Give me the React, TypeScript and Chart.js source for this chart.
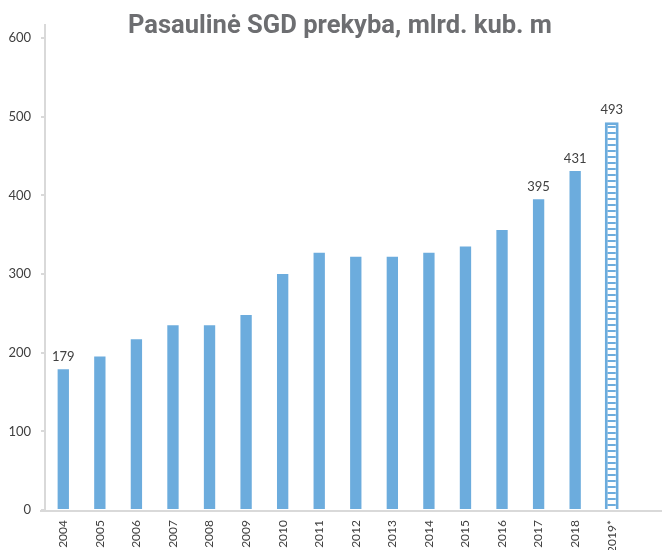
import React, { useEffect, useRef } from 'react';
import { Chart, registerables } from 'chart.js';

Chart.register(...registerables);

const titleText = 'Pasaulinė SGD prekyba, mlrd. kub. m';
const years = ['2004', '2005', '2006', '2007', '2008', '2009', '2010', '2011', '2012', '2013', '2014', '2015', '2016', '2017', '2018', '2019*'];
const values = [179, 195, 217, 235, 235, 248, 300, 327, 322, 322, 327, 335, 356, 395, 431, 493];
const labeledYears = ['2004', '2017', '2018', '2019*'];
const forecastYears = ['2019*'];
const yMin = 0;
const yMax = 600;
const yStep = 100;

const BLUE = '#6CACDD';
const AXIS = '#D9D9D9';
const TEXT = '#404040';

function makePattern(): CanvasPattern | string {
  const c = document.createElement('canvas');
  c.width = 4;
  c.height = 6;
  const g = c.getContext('2d');
  if (!g) return '#ffffff';
  g.fillStyle = '#ffffff';
  g.fillRect(0, 0, 4, 6);
  g.fillStyle = BLUE;
  g.fillRect(0, 0, 4, 2);
  return g.createPattern(c, 'repeat') || '#ffffff';
}

const customPlugin = {
  id: 'customDraw',
  beforeDatasetsDraw(chart: any) {
    const { ctx, chartArea } = chart;
    ctx.save();
    ctx.strokeStyle = AXIS;
    ctx.lineWidth = 2;
    ctx.beginPath();
    ctx.moveTo(chartArea.left, 24);
    ctx.lineTo(chartArea.left, chartArea.bottom + 1);
    ctx.stroke();
    ctx.beginPath();
    ctx.moveTo(chartArea.left - 5, chartArea.bottom + 1);
    ctx.lineTo(chart.width, chartArea.bottom + 1);
    ctx.stroke();
    ctx.restore();
  },
  afterDatasetsDraw(chart: any) {
    const { ctx } = chart;
    ctx.save();
    ctx.fillStyle = TEXT;
    ctx.font = '13px Lato';
    ctx.textAlign = 'center';
    ctx.textBaseline = 'alphabetic';
    chart.data.datasets.forEach((ds: any, di: number) => {
      const meta = chart.getDatasetMeta(di);
      ds.data.forEach((v: number | null, i: number) => {
        if (v == null) return;
        if (!labeledYears.includes(years[i])) return;
        const el = meta.data[i];
        ctx.fillText(String(v), el.x, el.y - 8);
      });
    });
    ctx.restore();
  },
  afterDraw(chart: any) {
    const { ctx } = chart;
    ctx.save();
    ctx.font = 'bold 25px Roboto';
    ctx.fillStyle = '#6D6E71';
    ctx.textAlign = 'center';
    ctx.textBaseline = 'alphabetic';
    const w = ctx.measureText(titleText).width;
    const s = 424 / w;
    ctx.translate(340, 33);
    ctx.scale(s, 1);
    ctx.fillText(titleText, 0, 0);
    ctx.restore();
  },
};

export default function App() {
  const ref = useRef<HTMLCanvasElement | null>(null);

  useEffect(() => {
    if (!ref.current) return;
    const pattern = makePattern();
    const regular = values.map((v, i) => (forecastYears.includes(years[i]) ? null : v));
    const forecast = values.map((v, i) => (forecastYears.includes(years[i]) ? v : null));
    const chart = new Chart(ref.current, {
      type: 'bar',
      data: {
        labels: years,
        datasets: [
          {
            data: regular,
            backgroundColor: BLUE,
            borderWidth: 0,
            barPercentage: 0.31,
            categoryPercentage: 1,
            grouped: false,
          } as any,
          {
            data: forecast,
            backgroundColor: pattern,
            borderColor: BLUE,
            borderWidth: 3,
            barPercentage: 0.38,
            categoryPercentage: 1,
            grouped: false,
          } as any,
        ],
      },
      options: {
        animation: false,
        responsive: false,
        maintainAspectRatio: false,
        layout: { padding: { top: 38, right: 32, left: 0, bottom: 0 } },
        plugins: {
          legend: { display: false },
          title: { display: false },
          tooltip: { enabled: false },
        },
        scales: {
          x: {
            grid: { display: false, drawTicks: false },
            border: { display: false },
            ticks: {
              minRotation: 90,
              maxRotation: 90,
              autoSkip: false,
              padding: 10,
              color: TEXT,
              font: { family: 'Lato', size: 12 },
            },
            afterFit: (scale: any) => {
              scale.height = 40;
            },
          },
          y: {
            min: yMin,
            max: yMax,
            grid: {
              drawOnChartArea: false,
              drawTicks: true,
              tickLength: 4,
              color: AXIS,
              lineWidth: 2,
            },
            border: { display: false },
            ticks: {
              stepSize: yStep,
              padding: 10,
              color: TEXT,
              font: { family: 'Lato', size: 13 },
            },
            afterFit: (scale: any) => {
              scale.width = 45;
            },
          },
        },
      },
      plugins: [customPlugin],
    });
    return () => chart.destroy();
  }, []);

  return (
    <div style={{ position: 'absolute', left: 0, top: 0, width: 662, height: 550, background: '#ffffff' }}>
      <canvas ref={ref} width={662} height={550} style={{ width: 662, height: 550, display: 'block' }} />
    </div>
  );
}
